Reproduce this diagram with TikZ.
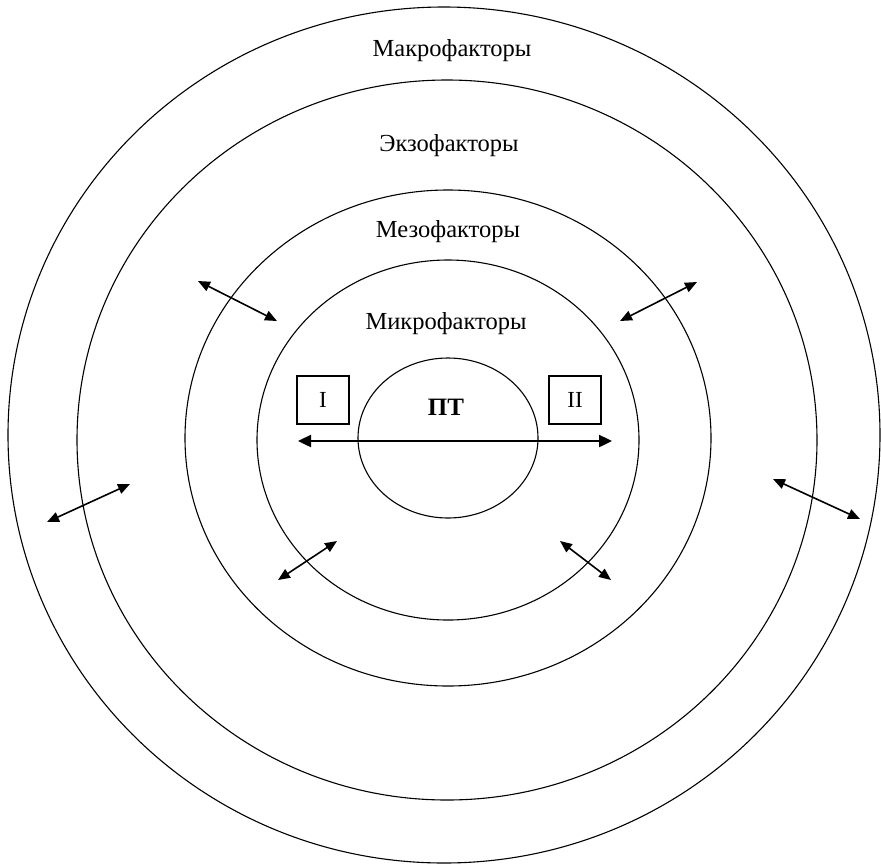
\documentclass[tikz,border=0pt]{standalone}
\usepackage{fontspec}
\setmainfont{Liberation Serif}
\usetikzlibrary{arrows.meta}

\begin{document}
\begin{tikzpicture}[x=1pt, y=-1pt,
  every node/.style={font=\fontsize{24.5}{28}\selectfont},
  krug/.style={line width=1.1pt},
  kvadrat/.style={draw, line width=1.1pt, minimum width=52pt, minimum height=48pt, inner sep=0pt, font=\fontsize{23}{27}\selectfont},
  strelka/.style={{Triangle[length=12pt,width=10pt]}-{Triangle[length=12pt,width=10pt]}, line width=1.6pt},
  glavnaya/.style={{Triangle[length=13pt,width=12pt]}-{Triangle[length=13pt,width=12pt]}, line width=2.4pt}]
  \useasboundingbox (0,0) rectangle (881,863);

  \draw[krug] (444,435) ellipse (436 and 428); % makro
  \draw[krug] (447,440) ellipse (370 and 360); % ekzo
  \draw[krug] (448,438) ellipse (263 and 248); % mezo
  \draw[krug] (448,440) ellipse (191 and 180); % mikro
  \draw[krug] (448,438) ellipse (90 and 80);   % PT

  \node (makro) at (452,51) {Макрофакторы};
  \node (ekzo) at (449,146) {Экзофакторы};
  \node (mezo) at (448,232) {Мезофакторы};
  \node (mikro) at (446,324) {Микрофакторы};
  \node[font=\fontsize{25}{29}\selectfont\bfseries] (pt) at (446,407) {ПТ};

  \node[kvadrat] (odin) at (323,400) {I};
  \node[kvadrat] (dva) at (575,400) {II};

  \coordinate (gl) at (298,441);
  \coordinate (gr) at (612,441);
  \draw[glavnaya] (gl) -- (gr);

  \coordinate (a1) at (198,281);
  \coordinate (b1) at (277,321);
  \coordinate (a2) at (697,282);
  \coordinate (b2) at (620,321);
  \coordinate (a3) at (130,484);
  \coordinate (b3) at (47,522);
  \coordinate (a4) at (773,479);
  \coordinate (b4) at (860,519);
  \coordinate (a5) at (337,541);
  \coordinate (b5) at (278,580);
  \coordinate (a6) at (560,541);
  \coordinate (b6) at (611,580);

  \draw[strelka] (a1) -- (b1);
  \draw[strelka] (a2) -- (b2);
  \draw[strelka] (a3) -- (b3);
  \draw[strelka] (a4) -- (b4);
  \draw[strelka] (a5) -- (b5);
  \draw[strelka] (a6) -- (b6);
\end{tikzpicture}
\end{document}
